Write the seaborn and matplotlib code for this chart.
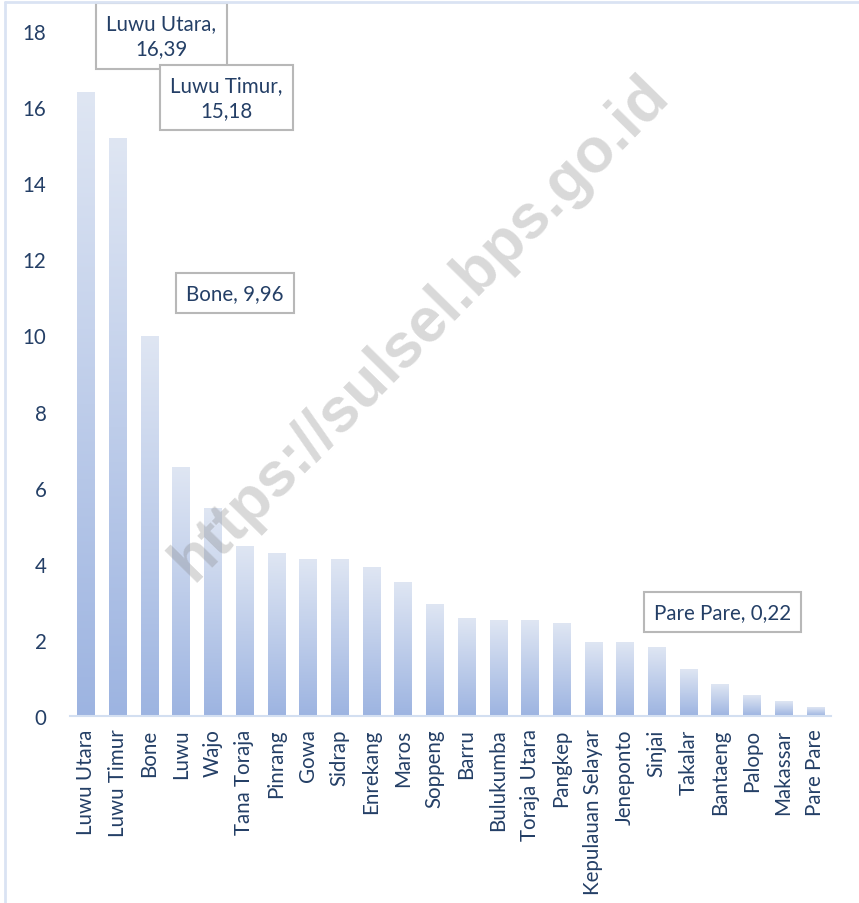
import numpy as np
import pandas as pd
import matplotlib
matplotlib.use("Agg")
import matplotlib.pyplot as plt
import seaborn as sns
from matplotlib.colors import LinearSegmentedColormap

regions = ["Luwu Utara", "Luwu Timur", "Bone", "Luwu", "Wajo", "Tana Toraja", "Pinrang",
           "Gowa", "Sidrap", "Enrekang", "Maros", "Soppeng", "Barru", "Bulukumba",
           "Toraja Utara", "Pangkep", "Kepulauan Selayar", "Jeneponto", "Sinjai", "Takalar",
           "Bantaeng", "Palopo", "Makassar", "Pare Pare"]
values = [16.39, 15.18, 9.96, 6.54, 5.46, 4.46, 4.28, 4.10, 4.10, 3.89, 3.52, 2.94,
          2.55, 2.50, 2.50, 2.42, 1.94, 1.94, 1.79, 1.23, 0.84, 0.53, 0.37, 0.22]
yticks = [0, 2, 4, 6, 8, 10, 12, 14, 16, 18]
callouts = ["Luwu Utara", "Luwu Timur", "Bone", "Pare Pare"]

df = pd.DataFrame({"region": regions, "value": values})

sns.set_theme(style="white")
plt.rcParams["font.family"] = ["Lato", "DejaVu Sans"]

TXT = "#243f66"
FS = 14.8
fig = plt.figure(figsize=(8.59, 9.04), dpi=100)
ax = fig.add_axes([0.0815, 0.2069, 0.8859, 0.7577])

sns.barplot(data=df, x="region", y="value", ax=ax, width=0.54, color="#b4c6e7",
            saturation=1)

cmap = LinearSegmentedColormap.from_list("g", ["#9db4e1", "#dfe6f3"])
grad = np.linspace(0, 1, 256).reshape(-1, 1)
for p in ax.patches:
    x0, w, h = p.get_x(), p.get_width(), p.get_height()
    p.set_facecolor("none")
    p.set_edgecolor("none")
    ax.imshow(grad, cmap=cmap, origin="lower", aspect="auto",
              extent=(x0, x0 + w, 0, h), zorder=2, interpolation="bicubic")

ax.set_xlim(-0.5, len(regions) - 0.5)
ax.set_ylim(0, 18)
ax.set_yticks(yticks)
ax.set_yticklabels([str(t) for t in yticks])
ax.set_xlabel("")
ax.set_ylabel("")
ax.tick_params(axis="y", length=0, pad=17, labelsize=FS, labelcolor=TXT)
ax.tick_params(axis="x", length=0, pad=9, labelsize=FS, labelcolor=TXT, rotation=90)
for s in ["top", "right", "left"]:
    ax.spines[s].set_visible(False)
ax.spines["bottom"].set_color("#d3dff1")
ax.spines["bottom"].set_linewidth(1.5)
ax.grid(False)

def fmt(v):
    return f"{v:.2f}".replace(".", ",")

pos = {"Luwu Utara": (2.38, 17.87, True), "Luwu Timur": (4.43, 16.26, True),
       "Bone": (4.71, 11.11, False), "Pare Pare": (20.08, 2.73, False)}
for name in callouts:
    v = values[regions.index(name)]
    x, y, two = pos[name]
    txt = f"{name},\n{fmt(v)}" if two else f"{name}, {fmt(v)}"
    ax.text(x, y, txt, ha="center", va="center", fontsize=FS, color=TXT,
            linespacing=1.3, zorder=5, clip_on=False,
            bbox=dict(boxstyle="square,pad=0.5", fc="white", ec="#b8b8b8", lw=1.5))

fig.text(420 / 859, 1 - 328 / 904, "https://sulsel.bps.go.id", rotation=45.5,
         ha="center", va="center", fontsize=45, fontweight="bold",
         family="Liberation Sans", color="#808080", alpha=0.3, zorder=10)

# chart frame (left and top edges)
fig.add_artist(plt.Line2D([5 / 859, 5 / 859], [0, 1 - 3 / 904], color="#dae3f3", lw=2,
                          transform=fig.transFigure))
fig.add_artist(plt.Line2D([5 / 859, 1], [1 - 3 / 904, 1 - 3 / 904], color="#dae3f3", lw=2,
                          transform=fig.transFigure))

fig.savefig("out.png", dpi=100)
